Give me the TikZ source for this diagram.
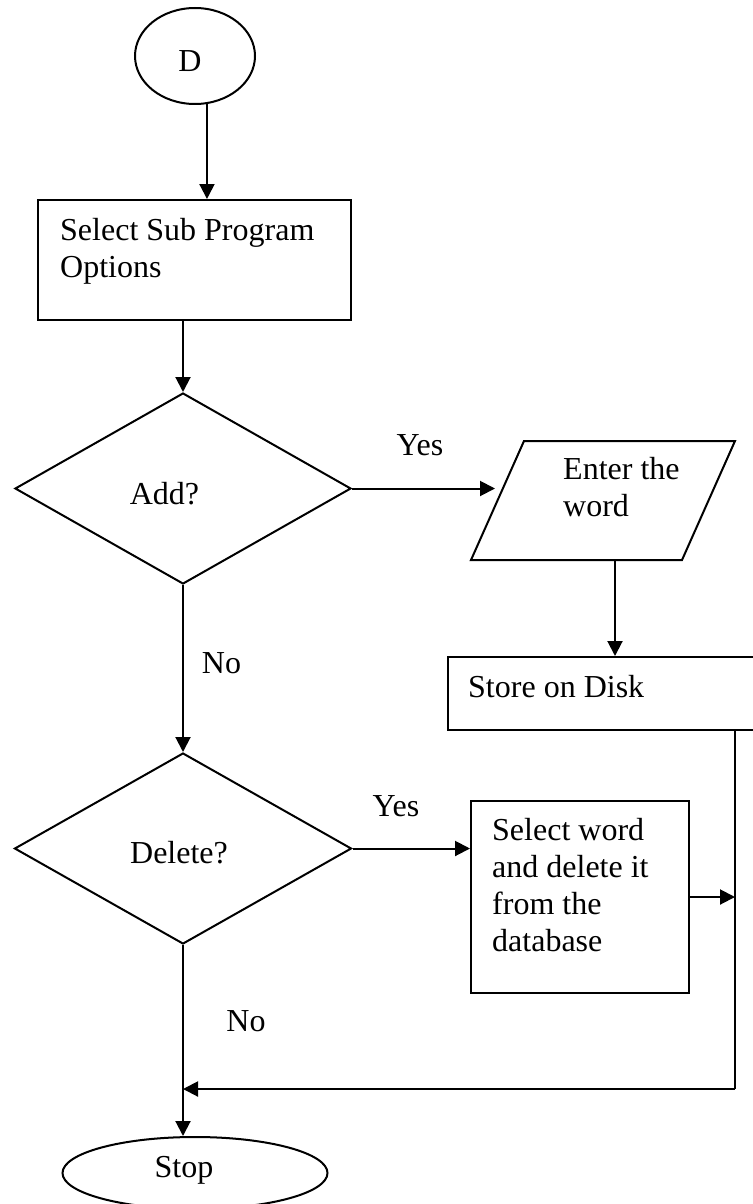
\documentclass[tikz,border=0pt]{standalone}
\usepackage{fontspec}
\setmainfont{Liberation Serif}
\usetikzlibrary{arrows.meta,shapes.geometric,calc}
\begin{document}
\begin{tikzpicture}[x=1pt,y=-1pt,
  line/.style={line width=2pt},
  arr/.style={line width=2pt,-{Triangle[length=15pt,width=15pt]}},
  txt/.style={inner sep=0pt,font=\fontsize{32}{37}\selectfont,align=left},
  box/.style={draw,line width=2pt,rectangle,inner sep=0pt},
  term/.style={draw,line width=2pt,ellipse,inner sep=0pt},
  dia/.style={draw,line width=2pt,diamond,inner sep=0pt}]
\useasboundingbox (0,0) rectangle (752,1204);

% start terminal
\node[term,minimum width=120pt,minimum height=96pt] (D) at (195,56) {};
\node[txt,anchor=base] (Dt) at (190,72) {D};

% select sub program
\node[box,minimum width=313pt,minimum height=120pt] (sel) at (194.5,260) {};
\node[txt,anchor=north west] (selt) at (60,218) {Select Sub Program\\Options};

% add decision
\node[dia,minimum width=336pt,minimum height=191pt] (add) at (183,488.5) {};
\node[txt,anchor=base] (addt) at (164.5,504) {Add?};

% enter the word (parallelogram)
\coordinate (pa) at (471,560);
\coordinate (pb) at (524,441);
\coordinate (pc) at (735,441);
\coordinate (pd) at (682,560);
\draw[line] (pa) -- (pb) -- (pc) -- (pd) -- cycle;
\node[txt,anchor=north west] (entt) at (563,457) {Enter the\\word};
\coordinate (ein) at (495,488.5);
\coordinate (pbot) at (615,560);

% store on disk
\node[box,minimum width=313pt,minimum height=73pt,anchor=north west] (store) at (447,656) {};
\node[txt,anchor=north west] (storet) at (468,675) {Store on Disk};

% delete decision
\node[dia,minimum width=337pt,minimum height=191pt] (del) at (183,848.5) {};
\node[txt,anchor=base] (delt) at (179,863) {Delete?};

% select word and delete
\node[box,minimum width=218pt,minimum height=192pt] (selw) at (580,897) {};
\node[txt,anchor=north west] (selwt) at (492,818) {Select word\\and delete it\\from the\\database};

% stop terminal
\node[term,minimum width=265pt,minimum height=72pt] (stop) at (195,1173) {};
\node[txt,anchor=base] (stopt) at (184,1177) {Stop};

% labels
\node[txt,anchor=base] (yes1) at (420,455) {Yes};
\node[txt,anchor=base] (no1) at (221.5,673) {No};
\node[txt,anchor=base] (yes2) at (396,816) {Yes};
\node[txt,anchor=base] (no2) at (246,1031) {No};

% connectors
\draw[arr] (D.-76) -- (D.-76 |- sel.north);
\draw[arr] (add.north |- sel.south) -- (add.north);
\draw[arr] (add.east) -- (ein);
\draw[arr] (pbot) -- (pbot |- store.north);
\draw[arr] (add.south) -- (del.north);
\draw[arr] (del.east) -- (del.east -| selw.west);
\coordinate (r1) at ($(store.south west)+(288,0)$);
\coordinate (r2) at (735,1089);
\draw[line] (r1) -- (r2);
\draw[arr] (selw.east) -- (selw.east -| r1);
\draw[arr] (r2) -- (r2 -| del.south);
\draw[arr] (del.south) -- (del.south |- stop.north);
\end{tikzpicture}
\end{document}
